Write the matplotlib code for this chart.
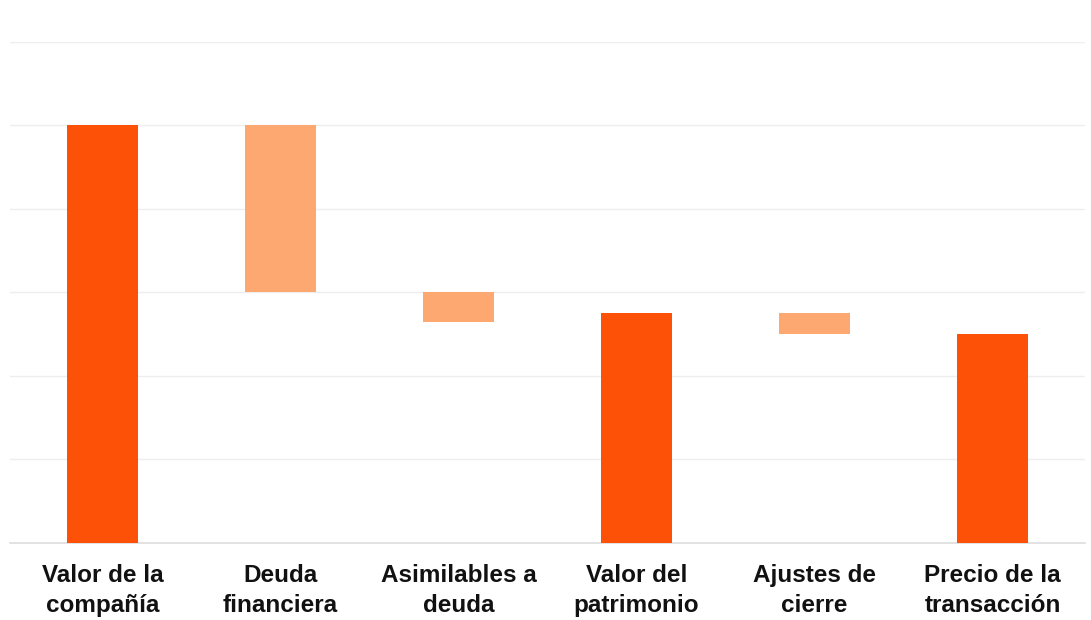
"""Waterfall: from company value to transaction price."""

import matplotlib.pyplot as plt

categories = [
    "Valor de la\ncompañía",
    "Deuda\nfinanciera",
    "Asimilables a\ndeuda",
    "Valor del\npatrimonio",
    "Ajustes de\ncierre",
    "Precio de la\ntransacción",
]
# bar tops and bottoms (arbitrary units, gridline = 1)
tops = [5.0, 5.0, 3.0, 2.75, 2.75, 2.5]
bottoms = [0.0, 3.0, 2.65, 0.0, 2.5, 0.0]
is_total = [True, False, False, True, False, True]

DARK = "#FE5108"
LIGHT = "#FDA870"

fig = plt.figure(figsize=(10.91, 6.2), dpi=100)
ax = fig.add_axes([0.0092, 0.1242, 0.9853, 0.8081])

heights = [t - b for t, b in zip(tops, bottoms)]
colors = [DARK if tot else LIGHT for tot in is_total]
ax.bar(range(len(categories)), heights, bottom=bottoms, width=0.4, color=colors, zorder=3)

ax.set_xlim(-0.52, 5.52)
ax.set_ylim(0, 6)
ax.set_yticks(range(1, 7))
ax.yaxis.grid(True, color="#eeeeee", linewidth=1.0, zorder=0)
ax.tick_params(axis="y", length=0, labelleft=False)

ax.set_xticks(range(len(categories)))
ax.set_xticklabels(categories, fontfamily="Liberation Sans", fontweight="bold",
                   fontsize=17.5, color="#111111", linespacing=1.38)
ax.tick_params(axis="x", length=0, pad=15)

for side in ("top", "right", "left"):
    ax.spines[side].set_visible(False)
ax.spines["bottom"].set_color("#dddddd")
ax.spines["bottom"].set_linewidth(1.2)

fig.savefig("out.png", dpi=100)
plt.close(fig)
